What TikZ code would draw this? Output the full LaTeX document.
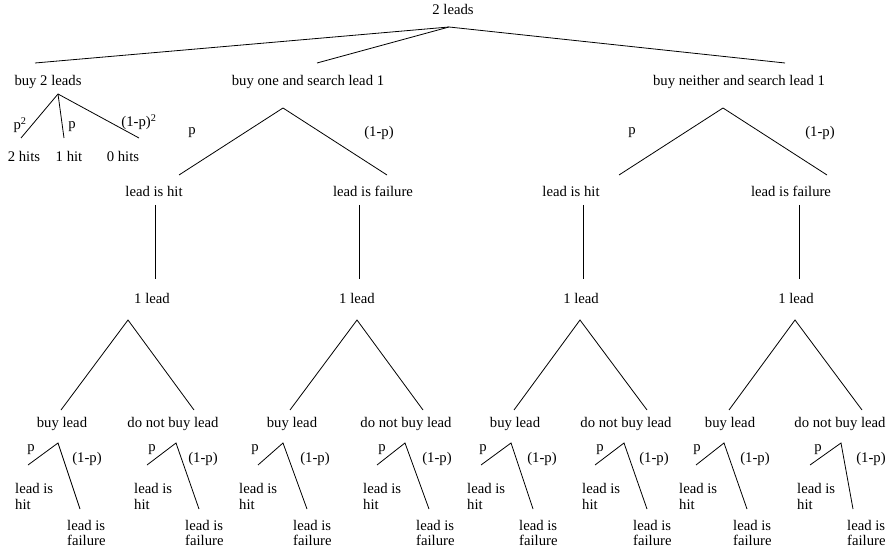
\documentclass[tikz,border=0pt]{standalone}
\usepackage{fontspec}
\setmainfont{Liberation Serif}
\begin{document}
\begin{tikzpicture}[x=1pt,y=-1pt,
  lbl/.style={inner sep=0pt,font=\fontsize{14.7}{15.5}\selectfont},
  lbll/.style={lbl,align=left,anchor=west},
  edge/.style={line width=0.8pt}]
\useasboundingbox (0,0) rectangle (889,556);
% top level
\node[lbl] (root) at (453,9) {2 leads};
\coordinate (r0) at (449,27);
\coordinate (a0) at (35,63);
\coordinate (b0) at (317,63);
\coordinate (c0) at (785,63);
\draw[edge] (a0) -- (r0) -- (c0);
\draw[edge] (r0) -- (b0);
% buy 2 leads
\node[lbl] (buy2) at (48,82) {buy 2 leads};
\coordinate (a1) at (58,94);
\coordinate (a2) at (21,138);
\coordinate (a3) at (64,138);
\coordinate (a4) at (139,138);
\draw[edge] (a1) -- (a2);
\draw[edge] (a1) -- (a3);
\draw[edge] (a1) -- (a4);
\node[lbl] (pp2) at (20,125) {p\textsuperscript{2}};
\node[lbl] (pp1) at (72,127) {p};
\node[lbl] (pp0) at (139,122) {(1-p)\textsuperscript{2}};
\node[lbl] (h2) at (24,156) {2 hits};
\node[lbl] (h1) at (69,156) {1 hit};
\node[lbl] (h0) at (123,156) {0 hits};
% buy one and search lead 1
\node[lbl] (one) at (308,82) {buy one and search lead 1};
\coordinate (b1) at (283,108);
\coordinate (b2) at (179,175);
\coordinate (b3) at (387,175);
\draw[edge] (b2) -- (b1) -- (b3);
\node[lbl] (bp) at (192,133) {p};
\node[lbl] (bq) at (379,133) {(1-p)};
\node[lbl] (bhit) at (154,191) {lead is hit};
\node[lbl] (bfail) at (373,191) {lead is failure};
% buy neither and search lead 1
\node[lbl] (nei) at (739,82) {buy neither and search lead 1};
\coordinate (c1) at (723,108);
\coordinate (c2) at (619,175);
\coordinate (c3) at (827,175);
\draw[edge] (c2) -- (c1) -- (c3);
\node[lbl] (cp) at (632,133) {p};
\node[lbl] (cq) at (820,133) {(1-p)};
\node[lbl] (chit) at (571,191) {lead is hit};
\node[lbl] (cfail) at (791,191) {lead is failure};
% verticals, 1 lead, triangles
\foreach \i/\vx/\lx/\ax/\lft/\rgt in {1/155/152/128/61/194, 2/359/357/357/290/423, 3/583/581/580/514/647, 4/799/796/795/729/862}{
  \coordinate (vt\i) at (\vx,205);
  \coordinate (vb\i) at (\vx,279);
  \draw[edge] (vt\i) -- (vb\i);
  \node[lbl] (one\i) at (\lx,298) {1 lead};
  \coordinate (ta\i) at (\ax,320);
  \coordinate (tl\i) at (\lft,410);
  \coordinate (tr\i) at (\rgt,410);
  \draw[edge] (tl\i) -- (ta\i) -- (tr\i);
}
% bottom groups
\foreach \i/\txt/\cx/\ax/\lft/\rgt/\px/\qx/\hx/\fx in {
  1/buy lead/62/58/28/80/31/87/15/67,
  2/do not buy lead/173/176/147/199/152/203/134/185,
  3/buy lead/292/283/258/307/255/315/239/293,
  4/do not buy lead/406/405/377/429/382/437/363/416,
  5/buy lead/515/511/481/533/483/542/467/519,
  6/do not buy lead/626/624/595/647/600/654/582/633,
  7/buy lead/730/724/696/747/697/755/679/733,
  8/do not buy lead/840/841/810/853/818/871/797/847}{
  \node[lbl] (g\i) at (\cx,424) {\txt};
  \coordinate (ga\i) at (\ax,443);
  \coordinate (gl\i) at (\lft,465);
  \coordinate (gr\i) at (\rgt,509);
  \draw[edge] (gl\i) -- (ga\i) -- (gr\i);
  \node[lbl] (gp\i) at (\px,450) {p};
  \node[lbl] (gq\i) at (\qx,459) {(1-p)};
  \node[lbll] (gh\i) at (\hx,496.5) {lead is\\hit};
  \node[lbll] (gf\i) at (\fx,533) {lead is\\failure};
}
\end{tikzpicture}
\end{document}
